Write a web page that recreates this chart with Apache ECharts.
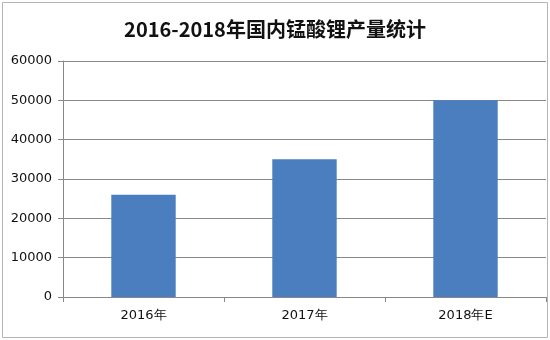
<!DOCTYPE html>
<html>
<head>
<meta charset="utf-8">
<script src="https://cdn.jsdelivr.net/npm/echarts@6/dist/echarts.min.js"></script>
<style>html,body{margin:0;padding:0;background:#fff}#c{width:550px;height:340px}</style>
</head>
<body>
<div id="c"></div>
<script>
const title = '2016-2018年国内锰酸锂产量统计';
const categories = ['2016年', '2017年', '2018年E'];
const production = [26000, 35000, 50000];
const yTicks = [0, 10000, 20000, 30000, 40000, 50000, 60000];

const chart = echarts.init(document.getElementById('c'));
chart.setOption({
  animation: false,
  backgroundColor: '#fff',
  title: {
    text: title,
    left: 'center',
    top: 14,
    textStyle: { fontFamily: 'Noto Sans CJK SC', fontWeight: 'bold', fontSize: 20, color: '#111' }
  },
  graphic: [{
    type: 'rect',
    shape: { x: 2.5, y: 2.5, width: 545, height: 335 },
    style: { fill: 'none', stroke: '#b5b5b5', lineWidth: 1 },
    z: -1
  }],
  grid: { left: 63, right: 4, top: 61, bottom: 43, containLabel: false },
  xAxis: {
    type: 'category',
    data: categories,
    axisLine: { lineStyle: { color: '#888' } },
    axisTick: { show: true, length: 5, lineStyle: { color: '#888' } },
    axisLabel: { margin: 12, fontFamily: 'DejaVu Sans', fontSize: 13, color: '#111' }
  },
  yAxis: {
    type: 'value',
    min: yTicks[0],
    max: yTicks[yTicks.length - 1],
    interval: yTicks[1] - yTicks[0],
    axisLine: { show: true, lineStyle: { color: '#888' } },
    axisTick: { show: true, length: 5, lineStyle: { color: '#888' } },
    splitLine: { lineStyle: { color: '#888', width: 1 } },
    axisLabel: { margin: 11, fontFamily: 'DejaVu Sans', fontSize: 13, color: '#111', formatter: v => String(v) }
  },
  series: [{
    type: 'bar',
    data: production,
    barWidth: '40%',
    itemStyle: { color: '#4A7EBF' }
  }]
});
</script>
</body>
</html>
